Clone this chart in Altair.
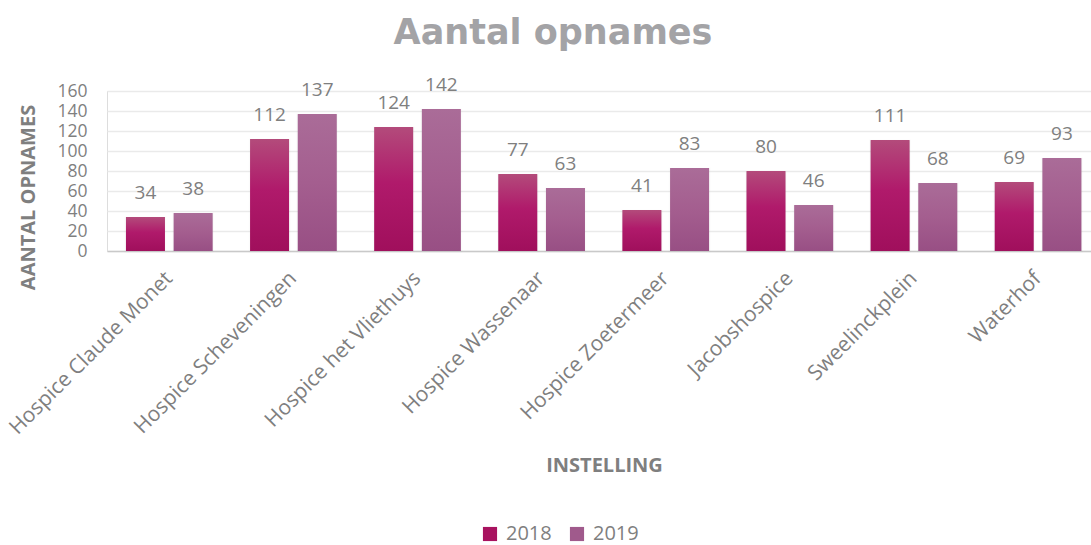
import altair as alt
import pandas as pd

categories = ["Hospice Claude Monet", "Hospice Scheveningen", "Hospice het Vliethuys",
              "Hospice Wassenaar", "Hospice Zoetermeer", "Jacobshospice",
              "Sweelinckplein", "Waterhof"]
years = ["2018", "2019"]
values_2018 = [34, 112, 124, 77, 41, 80, 111, 69]
values_2019 = [38, 137, 142, 63, 83, 46, 68, 93]
y_ticks = [0, 20, 40, 60, 80, 100, 120, 140, 160]

rows = []
for c, a, b in zip(categories, values_2018, values_2019):
    rows.append({"instelling": c, "year": "2018", "value": a})
    rows.append({"instelling": c, "year": "2019", "value": b})
df = pd.DataFrame(rows)

GRAY = "#7f7f7f"
FONT = "Open Sans"

x_enc = alt.X("instelling:N", sort=categories,
              scale=alt.Scale(paddingInner=0.3014, paddingOuter=0.115, align=0.664),
              axis=alt.Axis(title="INSTELLING", labelAngle=-45, labelAlign="right",
                            labelBaseline="middle", labelPadding=24, labelFontSize=21,
                            labelFont=FONT, labelColor=GRAY, ticks=False,
                            domainColor="#c9c9c9", domainWidth=1.5,
                            titleFont=FONT, titleFontSize=20, titleFontWeight="bold",
                            titleColor=GRAY, titleX=497, titleY=214,
                            titleAlign="center", titleBaseline="middle",
                            labelLimit=400))
xo_enc = alt.XOffset("year:N", scale=alt.Scale(domain=years, paddingInner=0.182, paddingOuter=0))
y_enc = alt.Y("value:Q", scale=alt.Scale(domain=[0, 160], nice=False), stack=None,
              axis=alt.Axis(title="AANTAL OPNAMES", values=y_ticks, ticks=False, domain=False,
                            labelFontSize=17.5, labelFont=FONT, labelColor=GRAY, labelPadding=20,
                            gridColor="#eaeaea", gridWidth=1.5,
                            titleFont=FONT, titleFontSize=20, titleFontWeight="bold",
                            titleColor=GRAY, titleX=-79, titleY=106, titleAngle=-90,
                            titleAlign="center", titleBaseline="middle"))

base = alt.Chart(df)

legend_bars = base.mark_bar(opacity=0).encode(
    x=x_enc, xOffset=xo_enc, y=y_enc,
    color=alt.Color("year:N", scale=alt.Scale(domain=years, range=["#a8125f", "#a05a8c"]),
                    legend=alt.Legend(title=None, orient="none", legendX=373, legendY=433,
                                      direction="horizontal", symbolType="square",
                                      symbolSize=200, symbolStrokeWidth=0, symbolOpacity=1,
                                      labelFont=FONT, labelFontSize=20, labelColor=GRAY,
                                      labelOffset=6, columnPadding=15, padding=0))
)

shadow = base.mark_bar(color="#8a8a8a", opacity=0.22, xOffset=2, x2Offset=2,
                       yOffset=1, y2Offset=2, stroke="#8a8a8a", strokeWidth=2.5,
                       strokeOpacity=0.15).encode(
    x=x_enc, xOffset=xo_enc, y=y_enc)

grad18 = alt.Gradient(gradient="linear", x1=0, x2=0, y1=0, y2=1,
                      stops=[alt.GradientStop(color="#b34b7b", offset=0),
                             alt.GradientStop(color="#b01a6b", offset=0.45),
                             alt.GradientStop(color="#a00f5c", offset=1)])
grad19 = alt.Gradient(gradient="linear", x1=0, x2=0, y1=0, y2=1,
                      stops=[alt.GradientStop(color="#aa6c98", offset=0),
                             alt.GradientStop(color="#a45e8f", offset=0.5),
                             alt.GradientStop(color="#984f84", offset=1)])

grad_bars = base.mark_bar().encode(
    x=x_enc, xOffset=xo_enc, y=y_enc,
    fill=alt.condition(alt.datum.year == "2018", alt.value(grad18), alt.value(grad19)))

labels = base.mark_text(dy=-18, baseline="alphabetic", font=FONT, fontSize=19, color=GRAY).encode(
    x=x_enc, xOffset=xo_enc, y=y_enc, text="value:Q")

chart = alt.layer(legend_bars, shadow, grad_bars, labels).properties(
    width=984, height=160,
    title=alt.Title("Aantal opnames", font="DejaVu Sans", fontSize=35, fontWeight="bold",
                    color="#a3a3a6", anchor="middle", dx=-46, dy=3, offset=0, baseline="alphabetic"),
    autosize=alt.AutoSizeParams(type="none"),
    padding={"left": 107, "top": 91, "right": 0, "bottom": 294},
).configure_view(stroke=None).configure(background="white")

chart.save("out.html", embed_options={"renderer": "svg", "actions": False})
